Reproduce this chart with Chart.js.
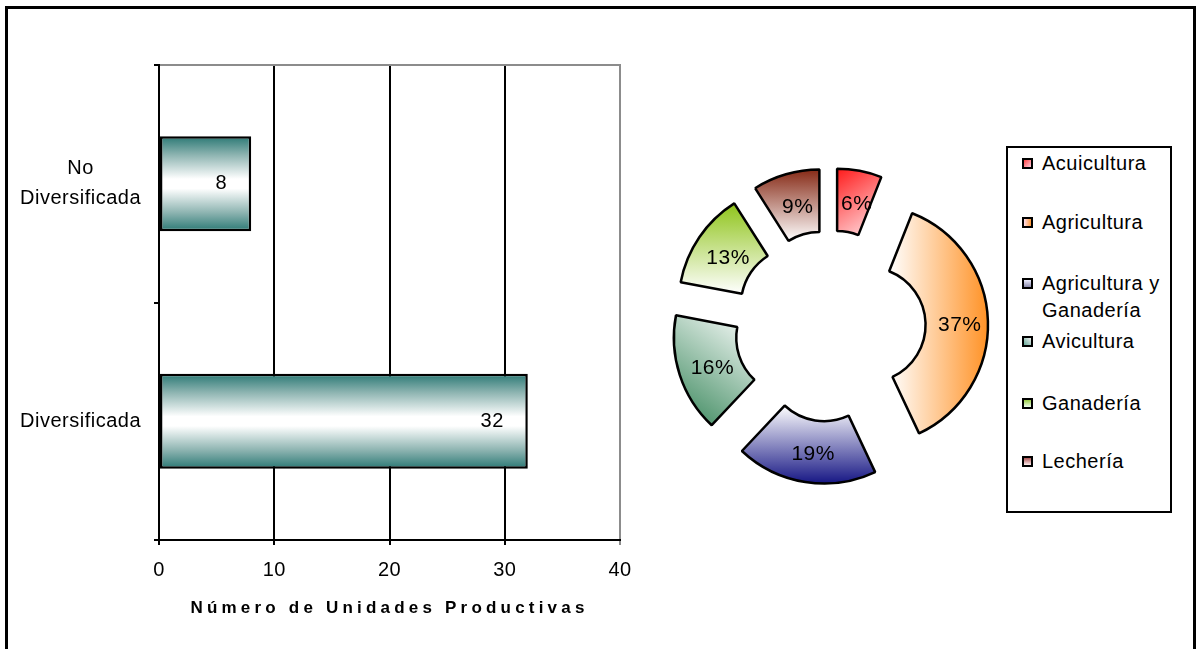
<!DOCTYPE html>
<html>
<head>
<meta charset="utf-8">
<script src="https://cdn.jsdelivr.net/npm/chart.js@4.4.1/dist/chart.umd.min.js"></script>
<style>
html,body{margin:0;padding:0;background:#fff;width:1200px;height:649px;overflow:hidden;font-family:"Liberation Sans",Arial,sans-serif;}
#frame{position:absolute;left:5px;top:6px;width:1185px;height:720px;border:3px solid #000;z-index:0;}
#barc{position:absolute;left:0;top:0;z-index:1;}
#pie{position:absolute;left:640px;top:0;z-index:1;}
#legend{position:absolute;left:1006px;top:146px;width:162px;height:363px;border:2px solid #000;background:#fff;z-index:2;}
.item{position:absolute;left:0;width:160px;font-size:20px;line-height:27px;letter-spacing:0.5px;color:#000;}
.mk{position:absolute;left:14px;top:8px;width:7px;height:7px;border:2px solid #000;}
.tx{position:absolute;left:34px;top:0;white-space:nowrap;}
</style>
</head>
<body>
<div id="frame"></div>
<canvas id="barc" width="660" height="649"></canvas>
<canvas id="pie" width="380" height="649"></canvas>
<div id="legend"></div>
<script>
// ---- data ----
const categories = ['No Diversificada', 'Diversificada'];
const counts = [8, 32];
const xTickStep = 10;
const xMax = 40;
const sectors = ['Acuicultura', 'Agricultura', 'Agricultura y Ganadería', 'Avicultura', 'Ganadería', 'Lechería'];
const shares = [6, 37, 19, 16, 13, 9];
const axisTitle = 'Número de Unidades Productivas';

// ---- styles ----
const FONT = '"Liberation Sans", Arial, sans-serif';
const TEAL = '#2a7874';
const EXPLODE = 38;
const RADIUS = 120;
const CUTOUT = 0.48;
const SEG_STYLE = [
  {dir:[0,0,1,1], stops:['#ff1a1a','#ffe6ea'], mk:'linear-gradient(135deg,#f44,#fcd)'},
  {dir:[0,0.5,1,0.5], stops:['#ffffff','#ff9226'], mk:'linear-gradient(90deg,#fde,#f93)'},
  {dir:[0.5,0,0.5,1], stops:['#ffffff','#161684'], mk:'linear-gradient(#eef,#88a)'},
  {dir:[0,1,1,0], stops:['#348457','#ffffff'], mk:'linear-gradient(45deg,#6a9,#eee)'},
  {dir:[0.5,0,0.5,1], stops:['#8fc41a','#ffffff'], mk:'linear-gradient(#9c4,#efe)'},
  {dir:[0.5,0,0.5,1], stops:['#862a16','#ffffff'], mk:'linear-gradient(#a55,#fee)'}
];
const LEGEND_TOPS = [2, 61, 122, 180, 242, 300];

// ---- helpers ----
const spacingPlugin = {
  id: 'spacing',
  beforeLayout(c){ c.ctx.letterSpacing = '0.5px'; },
  beforeDraw(c){ c.ctx.letterSpacing = '0.5px'; }
};

function barGradient(c){
  const chart = c.chart, ca = chart.chartArea;
  if (!ca || !chart.scales.y) return TEAL;
  const band = (ca.bottom - ca.top) / categories.length;
  const th = band * 0.4;
  const yc = chart.scales.y.getPixelForValue(c.dataIndex);
  const g = chart.ctx.createLinearGradient(0, yc - th/2, 0, yc + th/2);
  g.addColorStop(0, TEAL);
  g.addColorStop(0.2, '#8fb5b2');
  g.addColorStop(0.45, '#ffffff');
  g.addColorStop(0.55, '#ffffff');
  g.addColorStop(0.8, '#8fb5b2');
  g.addColorStop(1, TEAL);
  return g;
}

const valueLabels = {
  id: 'valueLabels',
  afterDatasetsDraw(chart){
    const ctx = chart.ctx;
    const meta = chart.getDatasetMeta(0);
    ctx.save();
    ctx.font = '20px ' + FONT;
    ctx.fillStyle = '#000';
    ctx.textAlign = 'right';
    ctx.textBaseline = 'middle';
    meta.data.forEach((bar, i) => { ctx.fillText(String(counts[i]), bar.x - 24, bar.y); });
    ctx.restore();
  }
};

const titleSpacing = {
  id: 'titleSpacing',
  beforeDraw(chart){
    const s = chart.scales.x;
    if (s && !s.__p){
      const orig = s.drawTitle.bind(s);
      s.drawTitle = function(){
        const ctx = this.ctx, prev = ctx.letterSpacing;
        ctx.letterSpacing = '4.2px';
        orig();
        ctx.letterSpacing = prev;
      };
      s.__p = true;
    }
  }
};

new Chart(document.getElementById('barc'), {
  type: 'bar',
  data: {
    labels: categories,
    datasets: [{
      data: counts,
      backgroundColor: barGradient,
      borderColor: '#000',
      borderWidth: 2.5,
      borderSkipped: false,
      barPercentage: 0.4,
      categoryPercentage: 1
    }]
  },
  options: {
    indexAxis: 'y',
    responsive: false,
    animation: false,
    events: [],
    layout: {padding: {top: 65, right: 40, bottom: 0, left: 0}},
    plugins: {legend: {display: false}, tooltip: {enabled: false}},
    scales: {
      x: {
        type: 'linear', position: 'bottom', min: 0, max: xMax,
        ticks: {stepSize: xTickStep, color: '#000', font: {size: 20, family: FONT}, padding: 13, maxRotation: 0},
        grid: {
          color: c => (c.tick && c.tick.value === xMax) ? '#8c8c8c' : '#000',
          tickColor: c => (c.tick && c.tick.value === xMax) ? '#8c8c8c' : '#000',
          lineWidth: 2, tickLength: 5
        },
        border: {color: '#000', width: 2},
        title: {display: true, text: axisTitle, color: '#000', font: {size: 17, weight: 'bold', family: FONT}, padding: {top: 0, bottom: 30}},
        afterFit(s){ s.height = 109; }
      },
      x2: {
        type: 'linear', position: 'top', min: 0, max: xMax, display: true,
        grid: {display: false}, ticks: {display: false},
        border: {color: '#8c8c8c', width: 2},
        afterFit(s){ s.height = 0; }
      },
      y: {
        type: 'category', position: 'left',
        ticks: {color: '#000', font: {size: 20, family: FONT, lineHeight: 1.5}, crossAlign: 'center', padding: 13,
                callback: (v, i) => categories[i].split(' ')},
        grid: {drawOnChartArea: false, tickLength: 5, color: '#000', lineWidth: 2, offset: true},
        border: {color: '#000', width: 2},
        afterFit(s){ s.width = 159; }
      }
    }
  },
  plugins: [spacingPlugin, titleSpacing, valueLabels]
});

// ---- doughnut ----
function segGradient(c){
  const chart = c.chart, ca = chart.chartArea, i = c.dataIndex;
  const st = SEG_STYLE[i];
  if (!ca) return st.stops[1];
  const total = shares.reduce((a, b) => a + b, 0);
  let before = 0;
  for (let k = 0; k < i; k++) before += shares[k];
  const a0 = -Math.PI/2 + 2*Math.PI*before/total;
  const a1 = a0 + 2*Math.PI*shares[i]/total;
  const cx = (ca.left + ca.right)/2, cy = (ca.top + ca.bottom)/2;
  let x0 = Infinity, y0 = Infinity, x1 = -Infinity, y1 = -Infinity;
  for (let s = 0; s <= 30; s++){
    const a = a0 + (a1 - a0)*s/30;
    for (const rad of [RADIUS, RADIUS*CUTOUT]){
      const x = cx + Math.cos(a)*rad, y = cy + Math.sin(a)*rad;
      x0 = Math.min(x0, x); x1 = Math.max(x1, x); y0 = Math.min(y0, y); y1 = Math.max(y1, y);
    }
  }
  const d = st.dir;
  const g = chart.ctx.createLinearGradient(x0 + (x1-x0)*d[0], y0 + (y1-y0)*d[1], x0 + (x1-x0)*d[2], y0 + (y1-y0)*d[3]);
  g.addColorStop(0, st.stops[0]);
  g.addColorStop(1, st.stops[1]);
  return g;
}

const explodePlugin = {
  id: 'explode',
  afterUpdate(chart){
    chart.getDatasetMeta(0).data.forEach(arc => {
      if (arc.__ex) return;
      arc.__ex = true;
      const base = Object.getPrototypeOf(arc).draw;
      arc.draw = function(ctx){
        const h = (this.startAngle + this.endAngle)/2;
        ctx.save();
        ctx.translate(Math.cos(h)*EXPLODE, Math.sin(h)*EXPLODE);
        base.call(this, ctx);
        ctx.restore();
      };
    });
  }
};

const pctLabels = {
  id: 'pctLabels',
  afterDatasetsDraw(chart){
    const ctx = chart.ctx;
    const total = shares.reduce((a, b) => a + b, 0);
    ctx.save();
    ctx.font = '21px ' + FONT;
    ctx.fillStyle = '#000';
    ctx.textAlign = 'center';
    ctx.textBaseline = 'middle';
    chart.getDatasetMeta(0).data.forEach((arc, i) => {
      const h = (arc.startAngle + arc.endAngle)/2;
      const rr = (arc.innerRadius + arc.outerRadius)/2 + EXPLODE;
      ctx.fillText(Math.round(shares[i]/total*100) + '%', arc.x + 3 + Math.cos(h)*rr, arc.y + 3 + Math.sin(h)*rr);
    });
    ctx.restore();
  }
};

new Chart(document.getElementById('pie'), {
  type: 'doughnut',
  data: {
    labels: sectors,
    datasets: [{data: shares, backgroundColor: segGradient, borderColor: '#000', borderWidth: 2.5}]
  },
  options: {
    responsive: false,
    animation: false,
    events: [],
    radius: RADIUS,
    cutout: (CUTOUT*100) + '%',
    layout: {padding: {top: 3}},
    plugins: {legend: {display: false}, tooltip: {enabled: false}}
  },
  plugins: [spacingPlugin, explodePlugin, pctLabels]
});

// ---- legend ----
const legend = document.getElementById('legend');
sectors.forEach((name, i) => {
  const it = document.createElement('div');
  it.className = 'item';
  it.style.top = LEGEND_TOPS[i] + 'px';
  const mk = document.createElement('div');
  mk.className = 'mk';
  mk.style.background = SEG_STYLE[i].mk;
  const tx = document.createElement('div');
  tx.className = 'tx';
  tx.innerHTML = name === 'Agricultura y Ganadería' ? 'Agricultura y<br>Ganadería' : name;
  it.appendChild(mk); it.appendChild(tx);
  legend.appendChild(it);
});
</script>
</body>
</html>
